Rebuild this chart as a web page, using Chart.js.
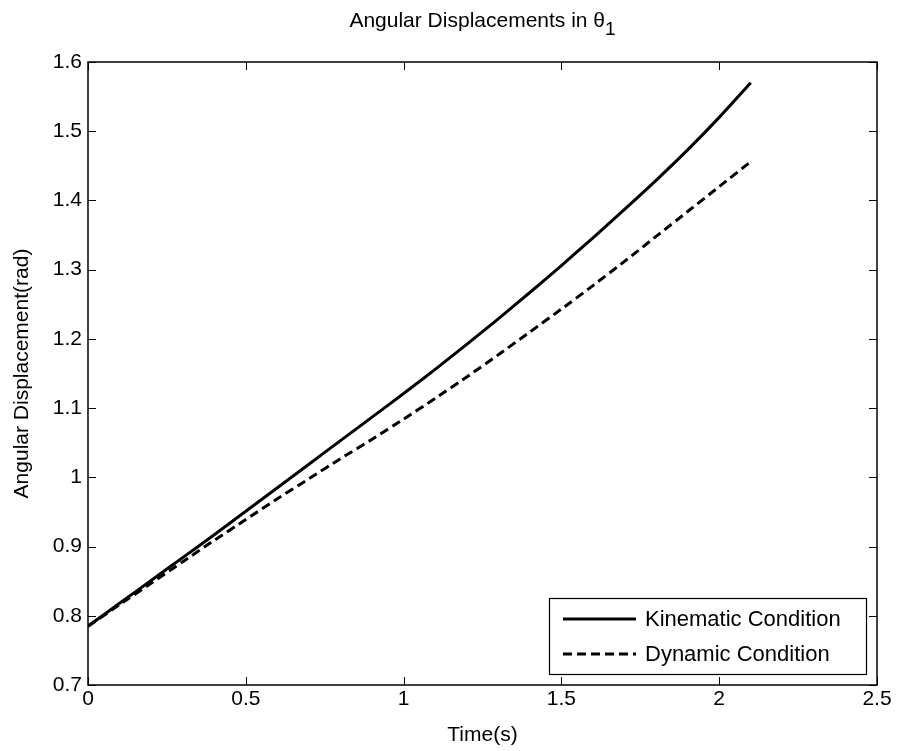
<!DOCTYPE html>
<html>
<head>
<meta charset="utf-8">
<script src="https://cdn.jsdelivr.net/npm/chart.js@4.4.1/dist/chart.umd.min.js"></script>
<style>
  html, body { margin: 0; padding: 0; background: #fff; }
  #wrap { width: 898px; height: 751px; }
</style>
</head>
<body>
<div id="wrap"><canvas id="chart" width="898" height="751"></canvas></div>
<script>
const timeS = [0, 0.1, 0.2, 0.3, 0.4, 0.5, 0.6, 0.7, 0.8, 0.9, 1.0, 1.1, 1.2, 1.3, 1.4, 1.5, 1.6, 1.7, 1.8, 1.9, 2.0, 2.1];
const kinematic = [0.785, 0.818, 0.851, 0.884, 0.917, 0.951, 0.985, 1.019, 1.053, 1.087, 1.121, 1.156, 1.192, 1.229, 1.267, 1.306, 1.346, 1.387, 1.429, 1.473, 1.520, 1.570];
const dynamic = [0.785, 0.816, 0.847, 0.878, 0.909, 0.939, 0.969, 0.998, 1.027, 1.055, 1.084, 1.114, 1.145, 1.177, 1.210, 1.243, 1.277, 1.312, 1.348, 1.384, 1.420, 1.456];
const xTicks = [0, 0.5, 1, 1.5, 2, 2.5];
const yTicks = [0.7, 0.8, 0.9, 1, 1.1, 1.2, 1.3, 1.4, 1.5, 1.6];
const seriesNames = ['Kinematic Condition', 'Dynamic Condition'];

const FONT = '"Liberation Sans", Arial, Helvetica, sans-serif';
const AREA = { left: 88, right: 877, top: 62, bottom: 685 };

const toPoints = (ys) => timeS.map((t, i) => ({ x: t, y: ys[i] }));

// box, inner ticks, title, axis titles and legend, like a matlab figure
const matlabFrame = {
  id: 'matlabFrame',
  afterDatasetsDraw(chart) {
    const { ctx, chartArea: a, scales: { x, y } } = chart;
    ctx.save();
    ctx.strokeStyle = '#000';
    ctx.lineWidth = 1;
    ctx.beginPath();
    xTicks.forEach((v) => {
      const px = Math.round(x.getPixelForValue(v)) + 0.5;
      ctx.moveTo(px, a.bottom); ctx.lineTo(px, a.bottom - 8);
      ctx.moveTo(px, a.top); ctx.lineTo(px, a.top + 8);
    });
    yTicks.forEach((v) => {
      const py = Math.round(y.getPixelForValue(v)) + 0.5;
      ctx.moveTo(a.left, py); ctx.lineTo(a.left + 8, py);
      ctx.moveTo(a.right, py); ctx.lineTo(a.right - 8, py);
    });
    ctx.stroke();
    ctx.lineWidth = 1.5;
    ctx.strokeRect(a.left, a.top, a.right - a.left, a.bottom - a.top);

    ctx.fillStyle = '#000';
    ctx.textBaseline = 'middle';

    // title with subscript
    ctx.font = `21px ${FONT}`;
    const main = 'Angular Displacements in \u03b8';
    const w1 = ctx.measureText(main).width;
    ctx.font = `19px ${FONT}`;
    const w2 = ctx.measureText('1').width;
    const tx = (a.left + a.right) / 2 - (w1 + w2) / 2;
    ctx.textAlign = 'left';
    ctx.font = `21px ${FONT}`;
    ctx.fillText(main, tx, 21);
    ctx.font = `19px ${FONT}`;
    ctx.fillText('1', tx + w1, 30);

    // axis titles
    ctx.font = `21px ${FONT}`;
    ctx.textAlign = 'center';
    ctx.fillText('Time(s)', (a.left + a.right) / 2, 735);
    ctx.save();
    ctx.translate(22, (a.top + a.bottom) / 2);
    ctx.rotate(-Math.PI / 2);
    ctx.fillText('Angular Displacement(rad)', 0, 0);
    ctx.restore();

    // legend
    const lx = 549, ly = 598, lw = 317, lh = 76;
    ctx.fillStyle = '#fff';
    ctx.fillRect(lx, ly, lw, lh);
    ctx.lineWidth = 1.2;
    ctx.strokeRect(lx + 0.5, ly + 0.5, lw, lh);
    ctx.font = `22px ${FONT}`;
    ctx.textAlign = 'left';
    chart.data.datasets.forEach((ds, i) => {
      const rowY = ly + 21 + i * 35;
      ctx.strokeStyle = ds.borderColor;
      ctx.lineWidth = ds.borderWidth;
      ctx.setLineDash(ds.borderDash || []);
      ctx.beginPath();
      ctx.moveTo(lx + 14, rowY);
      ctx.lineTo(lx + 87, rowY);
      ctx.stroke();
      ctx.setLineDash([]);
      ctx.fillStyle = '#000';
      ctx.fillText(ds.label, lx + 96, rowY + 1);
    });
    ctx.restore();
  },
};

const fixTicks = (list) => (scale) => { scale.ticks = list.map((v) => ({ value: v })); };
const fmt = (v) => String(+Number(v).toFixed(1));

new Chart(document.getElementById('chart'), {
  type: 'line',
  data: {
    datasets: [
      {
        label: seriesNames[0],
        data: toPoints(kinematic),
        borderColor: '#000',
        borderWidth: 3,
        pointRadius: 0,
        tension: 0.2,
      },
      {
        label: seriesNames[1],
        data: toPoints(dynamic),
        borderColor: '#000',
        borderWidth: 3,
        borderDash: [9, 5],
        pointRadius: 0,
        tension: 0.2,
      },
    ],
  },
  options: {
    responsive: false,
    animation: false,
    layout: { padding: { left: 0, right: 898 - AREA.right, top: AREA.top, bottom: 0 } },
    plugins: { legend: { display: false }, tooltip: { enabled: false }, title: { display: false } },
    scales: {
      x: {
        type: 'linear',
        min: 0,
        max: 2.5,
        afterBuildTicks: fixTicks(xTicks),
        afterFit: (s) => { s.height = 751 - AREA.bottom; },
        grid: { display: false, drawTicks: false },
        border: { display: false },
        ticks: { color: '#000', font: { family: FONT, size: 21 }, padding: 2, maxRotation: 0, callback: fmt },
      },
      y: {
        type: 'linear',
        min: 0.7,
        max: 1.6,
        afterBuildTicks: fixTicks(yTicks),
        afterFit: (s) => { s.width = AREA.left; },
        grid: { display: false, drawTicks: false },
        border: { display: false },
        ticks: { color: '#000', font: { family: FONT, size: 21 }, padding: 6, callback: fmt },
      },
    },
  },
  plugins: [matlabFrame],
});
</script>
</body>
</html>
